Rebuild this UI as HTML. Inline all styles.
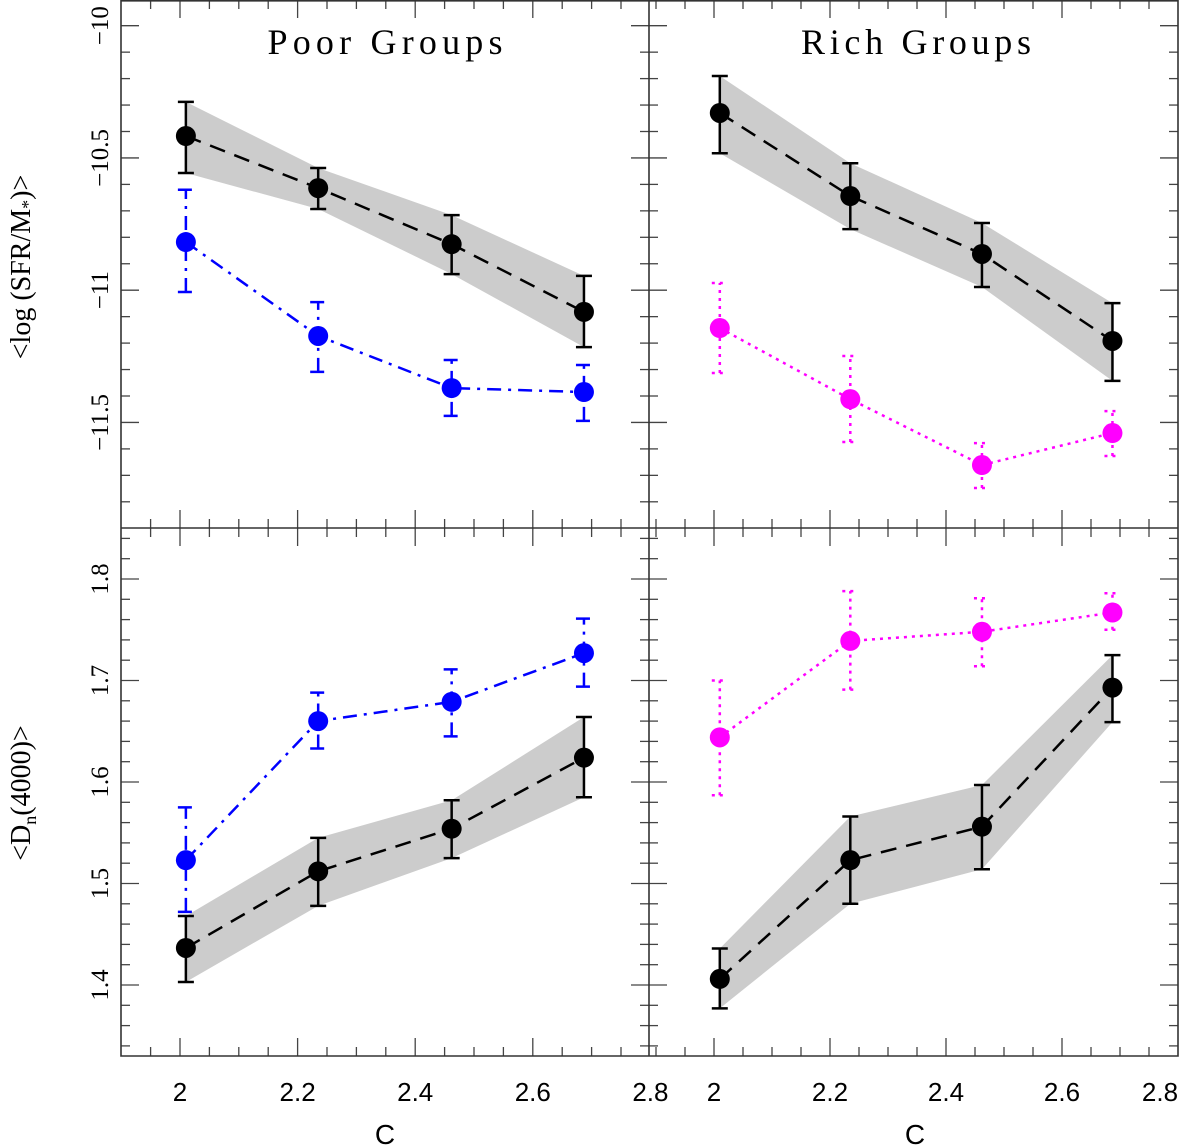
<!DOCTYPE html>
<html><head><meta charset="utf-8"><style>
html,body{margin:0;padding:0;background:#fff;}
svg{display:block;}
</style></head><body>
<svg id="chart" width="1200" height="1148" xmlns="http://www.w3.org/2000/svg"></svg>
<script>
const cValues = [2.01, 2.235, 2.462, 2.687];
// top panels: <log(SFR/M*)>
const poorSfrAll = [-10.417, -10.614, -10.826, -11.082];
const poorSfrAllLo = [-10.557, -10.693, -10.939, -11.215];
const poorSfrAllHi = [-10.288, -10.538, -10.716, -10.946];
const poorSfrSub = [-10.818, -11.173, -11.370, -11.385];
const poorSfrSubLo = [-11.007, -11.309, -11.475, -11.494];
const poorSfrSubHi = [-10.620, -11.045, -11.264, -11.283];
const richSfrAll = [-10.330, -10.644, -10.863, -11.192];
const richSfrAllLo = [-10.482, -10.769, -10.988, -11.343];
const richSfrAllHi = [-10.190, -10.520, -10.746, -11.049];
const richSfrSub = [-11.143, -11.412, -11.661, -11.540];
const richSfrSubLo = [-11.313, -11.574, -11.748, -11.627];
const richSfrSubHi = [-10.973, -11.249, -11.578, -11.457];
// bottom panels: <Dn(4000)>
const poorDnAll = [1.4365, 1.512, 1.554, 1.624];
const poorDnAllLo = [1.403, 1.478, 1.525, 1.585];
const poorDnAllHi = [1.468, 1.545, 1.582, 1.664];
const poorDnSub = [1.523, 1.660, 1.679, 1.727];
const poorDnSubLo = [1.472, 1.633, 1.645, 1.694];
const poorDnSubHi = [1.575, 1.688, 1.711, 1.761];
const richDnAll = [1.406, 1.523, 1.556, 1.693];
const richDnAllLo = [1.377, 1.480, 1.514, 1.659];
const richDnAllHi = [1.436, 1.566, 1.597, 1.725];
const richDnSub = [1.644, 1.739, 1.748, 1.767];
const richDnSubLo = [1.587, 1.691, 1.714, 1.750];
const richDnSubHi = [1.700, 1.788, 1.781, 1.786];
const xTickLabels = ["2", "2.2", "2.4", "2.6", "2.8"];
const sfrTickLabels = ["−10", "−10.5", "−11", "−11.5"];
const dnTickLabels = ["1.4", "1.5", "1.6", "1.7", "1.8"];

const svg = document.getElementById('chart');
const NS = 'http://www.w3.org/2000/svg';
function mk(tag, attrs, parent) {
  const e = document.createElementNS(NS, tag);
  for (const k in attrs) e.setAttribute(k, attrs[k]);
  (parent || svg).appendChild(e);
  return e;
}
const L = 121, M = 649, R = 1178, T = 0, H = 528, B = 1056;
function xLeft(v) { return 180 + (v - 2) * 588; }
function xRight(v) { return 714 + (v - 2) * 580; }
function ySfr(v) { return 25.7 + (-10 - v) * 264.5; }
function yDn(v) { return 985 - (v - 1.4) * 1015; }

function series(g, xf, yf, vals, lo, hi, color, dash, capDash, name) {
  const pts = cValues.map((c, i) => xf(c) + ',' + yf(vals[i])).join(' ');
  const ln = mk('polyline', {points: pts, fill: 'none', stroke: color, 'stroke-width': 2.5, 'stroke-dasharray': dash}, g);
  
  
  cValues.forEach((c, i) => {
    const x = xf(c), y1 = yf(lo[i]), y2 = yf(hi[i]);
    const eb = mk('path', {d: `M${x},${y1}V${y2}M${x-8},${y1}H${x+8}M${x-8},${y2}H${x+8}`, stroke: color, 'stroke-width': 2.5, fill: 'none', 'stroke-dasharray': capDash}, g);
    
    
    const p = mk('circle', {cx: x, cy: yf(vals[i]), r: 10, fill: color}, g);
    
    
  });
}
function band(g, xf, yf, lo, hi, name) {
  const top = cValues.map((c, i) => xf(c) + ',' + yf(hi[i]));
  const bot = cValues.map((c, i) => xf(c) + ',' + yf(lo[i])).reverse();
  const b = mk('polygon', {points: top.concat(bot).join(' '), fill: '#cccccc'}, g);
  
  
}
[[xLeft, L, M], [xRight, M, R]].forEach(([xf, a, b]) => {
  for (let k = 0; k <= 20; k++) {
    const v = 1.85 + k * 0.05;
    const x = xf(v);
    if (x < a + 2 || x > b - 1) continue;
    const major = Math.abs(Math.round(v * 100) % 20) === 0;
    const len = major ? 18 : 9;
    mk('line', {x1: x, x2: x, y1: 0, y2: len, stroke: '#444', 'stroke-width': 1.3});
    mk('line', {x1: x, x2: x, y1: H - len, y2: H + len, stroke: '#444', 'stroke-width': 1.3});
    mk('line', {x1: x, x2: x, y1: B - len, y2: B, stroke: '#444', 'stroke-width': 1.3});
  }
});
function yTicks(yf, vmin, vmax, step, majorEvery, yA, yB) {
  const n = Math.round((vmax - vmin) / step);
  for (let k = 0; k <= n; k++) {
    const v = vmin + k * step;
    const y = yf(v);
    if (y < yA + 2 || y > yB - 2) continue;
    const major = k % majorEvery === 0;
    const len = major ? 18 : 9;
    [L, M].forEach(x => mk('line', {x1: x, x2: x + len, y1: y, y2: y, stroke: '#444', 'stroke-width': 1.3}));
    [M, R].forEach(x => mk('line', {x1: x - len, x2: x, y1: y, y2: y, stroke: '#444', 'stroke-width': 1.3}));
  }
}
yTicks(ySfr, -12.0, -9.9, 0.1, 5, 0, H);
yTicks(yDn, 1.3, 1.9, 0.02, 5, H, B);

const gTL = mk('g', {});  
const gTR = mk('g', {});  
const gBL = mk('g', {});  
const gBR = mk('g', {});  

band(gTL, xLeft, ySfr, poorSfrAllLo, poorSfrAllHi, 'poor-sfr-all');
series(gTL, xLeft, ySfr, poorSfrAll, poorSfrAllLo, poorSfrAllHi, '#000', '16 10', 'none', 'poor-sfr-all');
series(gTL, xLeft, ySfr, poorSfrSub, poorSfrSubLo, poorSfrSubHi, '#0000ff', '14 7 3 7', '14 7 3 7', 'poor-sfr-sub');
band(gTR, xRight, ySfr, richSfrAllLo, richSfrAllHi, 'rich-sfr-all');
series(gTR, xRight, ySfr, richSfrAll, richSfrAllLo, richSfrAllHi, '#000', '16 10', 'none', 'rich-sfr-all');
series(gTR, xRight, ySfr, richSfrSub, richSfrSubLo, richSfrSubHi, '#ff00ff', '3 5', '3 5', 'rich-sfr-sub');
band(gBL, xLeft, yDn, poorDnAllLo, poorDnAllHi, 'poor-dn-all');
series(gBL, xLeft, yDn, poorDnAll, poorDnAllLo, poorDnAllHi, '#000', '16 10', 'none', 'poor-dn-all');
series(gBL, xLeft, yDn, poorDnSub, poorDnSubLo, poorDnSubHi, '#0000ff', '14 7 3 7', '14 7 3 7', 'poor-dn-sub');
band(gBR, xRight, yDn, richDnAllLo, richDnAllHi, 'rich-dn-all');
series(gBR, xRight, yDn, richDnAll, richDnAllLo, richDnAllHi, '#000', '16 10', 'none', 'rich-dn-all');
series(gBR, xRight, yDn, richDnSub, richDnSubLo, richDnSubHi, '#ff00ff', '3 5', '3 5', 'rich-dn-sub');

const fr = mk('path', {d: `M${L},0V${B}H${R}V0M${M},0V${B}M${L},${H}H${R}`, fill: 'none', stroke: '#333', 'stroke-width': 1.6});


mk('line', {x1: L, x2: R, y1: 0.8, y2: 0.8, stroke: '#333', 'stroke-width': 1.6});

function txt(s, attrs, name) {
  const t = mk('text', attrs);
  t.textContent = s;
  
  
  return t;
}
const serif = '"Liberation Serif", serif';
const sans = '"Liberation Sans", sans-serif';
xTickLabels.forEach((s, i) => {
  const v = 2 + i * 0.2;
  txt(s, {x: xLeft(v), y: 1101, 'font-family': sans, 'font-size': 26, 'text-anchor': 'middle'}, 'x-tick-label');
  txt(s, {x: i === 4 ? 1160 : xRight(v), y: 1101, 'font-family': sans, 'font-size': 26, 'text-anchor': 'middle'}, 'x-tick-label');
});
sfrTickLabels.forEach((s, i) => {
  const v = -10 - i * 0.5, y = ySfr(v);
  txt(s, {x: 0, y: 0, transform: `translate(108,${y}) rotate(-90)`, 'font-family': serif, 'font-size': 25, 'text-anchor': 'middle'}, 'y-tick-label');
});
dnTickLabels.forEach((s, i) => {
  const v = 1.4 + i * 0.1, y = yDn(v);
  txt(s, {x: 0, y: 0, transform: `translate(108,${y}) rotate(-90)`, 'font-family': serif, 'font-size': 25, 'text-anchor': 'middle'}, 'y-tick-label');
});
txt('Poor Groups', {x: 385, y: 54, 'font-family': serif, 'font-size': 36, 'text-anchor': 'middle', textLength: 235}, 'poor-groups-title');
txt('Rich Groups', {x: 916, y: 54, 'font-family': serif, 'font-size': 36, 'text-anchor': 'middle', textLength: 230}, 'rich-groups-title');
txt('C', {x: 385, y: 1144, 'font-family': sans, 'font-size': 28, 'text-anchor': 'middle'}, 'x-axis-title-left');
txt('C', {x: 915, y: 1144, 'font-family': sans, 'font-size': 28, 'text-anchor': 'middle'}, 'x-axis-title-right');
const yt1 = txt('<log (SFR/M', {x: 0, y: 0, transform: 'translate(30,267) rotate(-90)', 'font-family': serif, 'font-size': 28, 'text-anchor': 'middle'}, 'y-axis-title-sfr');
const s1 = mk('tspan', {'font-size': 18, dy: 4}, yt1); s1.textContent = '*';
const s1b = mk('tspan', {dy: -4}, yt1); s1b.textContent = ')>';
const yt2 = txt('<D', {x: 0, y: 0, transform: 'translate(30,793) rotate(-90)', 'font-family': serif, 'font-size': 28, 'text-anchor': 'middle'}, 'y-axis-title-dn');
const s2 = mk('tspan', {'font-size': 18, dy: 6}, yt2); s2.textContent = 'n';
const s2b = mk('tspan', {dy: -6}, yt2); s2b.textContent = '(4000)>';
</script>
</body></html>
